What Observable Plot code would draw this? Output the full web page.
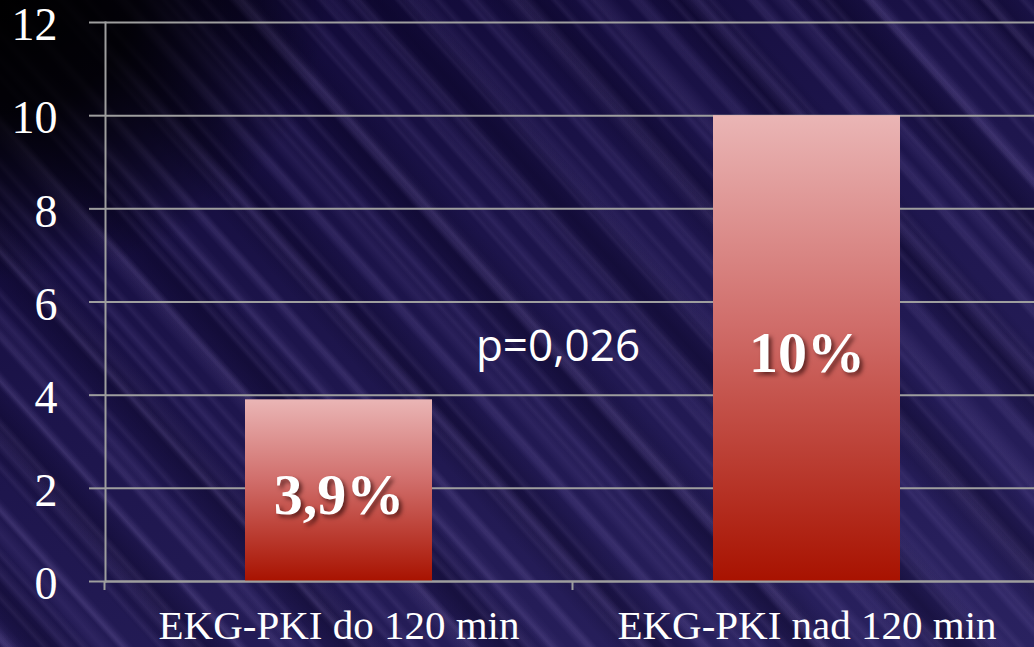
<!DOCTYPE html>
<html><head><meta charset="utf-8">
<script src="https://cdn.jsdelivr.net/npm/d3@7"></script>
<script src="https://cdn.jsdelivr.net/npm/@observablehq/plot@0.6"></script>
<style>
body{margin:0;background:#1b1446;}
#wrap{width:1034px;height:647px;position:relative;overflow:hidden;
background:
 radial-gradient(ellipse 330px 280px at 0 0, #000 0%, rgba(0,0,0,0.85) 40%, rgba(0,0,0,0) 100%),
 repeating-linear-gradient(48deg, rgba(160,140,220,0) 0px, rgba(160,140,220,0.13) 6px, rgba(160,140,220,0) 14px, rgba(160,140,220,0) 43px),
 repeating-linear-gradient(48deg, rgba(180,160,230,0) 0px, rgba(180,160,230,0.09) 4px, rgba(180,160,230,0) 10px, rgba(180,160,230,0) 29px),
 repeating-linear-gradient(48deg, rgba(150,130,210,0) 0px, rgba(150,130,210,0.10) 9px, rgba(150,130,210,0) 20px, rgba(150,130,210,0) 67px),
 repeating-linear-gradient(48deg, rgba(8,3,35,0) 0px, rgba(8,3,35,0.45) 35px, rgba(8,3,35,0) 70px, rgba(8,3,35,0) 113px),
 linear-gradient(160deg, #0e0732 0%, #1c144a 40%, #2a2260 100%);}
#wrap svg{position:absolute;left:0;top:0;}
</style></head><body><div id="wrap"></div>
<script>
const categories = ["EKG-PKI do 120 min", "EKG-PKI nad 120 min"];
const values = [3.9, 10];
const valueLabels = ["3,9%", "10%"];
const yTicks = [0, 2, 4, 6, 8, 10, 12];
const pValueLabel = "p=0,026";
const pValueY = [5.2];

const data = categories.map((c, i) => ({category: c, value: values[i], label: valueLabels[i]}));
const serif = '"Liberation Serif", "Times New Roman", serif';
const sans = '"Open Sans", sans-serif';
const gridColor = "#9e9e9e";

const gradientDefs = () => {
  const defs = d3.create("svg:defs");
  const g = defs.append("linearGradient").attr("id", "barGrad").attr("x1", 0).attr("y1", 0).attr("x2", 0).attr("y2", 1);
  g.append("stop").attr("offset", "0%").attr("stop-color", "#eab5b5");
  g.append("stop").attr("offset", "45%").attr("stop-color", "#d06d6a");
  g.append("stop").attr("offset", "100%").attr("stop-color", "#a81200");
  return defs.node();
};

const categoryTicks = (index, scales, values, dimensions) => {
  const x = scales.x;
  const bw = x.bandwidth ? x.bandwidth() : 0;
  const step = x.step ? x.step() : bw;
  const half = (step - bw) / 2;
  const y0 = dimensions.height - dimensions.marginBottom;
  const xs = categories.map(c => x(c) - half);
  xs.push(x(categories[categories.length - 1]) + bw + half);
  const g = d3.create("svg:g").attr("stroke", gridColor).attr("stroke-width", 2);
  xs.forEach(v => g.append("line").attr("x1", v).attr("x2", v).attr("y1", y0).attr("y2", y0 + 9));
  return g.node();
};

const plot = Plot.plot({
  width: 1034, height: 647,
  marginLeft: 105, marginTop: 22, marginBottom: 66, marginRight: 0,
  style: {background: "transparent", color: "white", overflow: "visible"},
  x: {domain: categories, range: [105, 1041], paddingInner: 0.6, paddingOuter: 0.3},
  y: {domain: [0, 12], range: [581, 22]},
  marks: [
    gradientDefs,
    Plot.gridY(yTicks, {stroke: gridColor, strokeOpacity: 1, strokeWidth: 2}),
    Plot.barY(data, {x: "category", y: "value", fill: "url(#barGrad)"}),
    Plot.frame({anchor: "left", stroke: gridColor, strokeWidth: 2}),
    Plot.ruleY([0], {stroke: gridColor, strokeWidth: 2}),
    categoryTicks,
    Plot.axisY(yTicks, {tickSize: 16, stroke: gridColor, strokeWidth: 2, tickFormat: () => "", label: null}),
    Plot.text(yTicks, {y: d => d, frameAnchor: "left", textAnchor: "end", dx: -48, dy: 3, text: d => String(d), fontSize: 46, fontFamily: serif, fill: "white"}),
    Plot.axisX({tickSize: 0, tickPadding: 28, fontSize: 41, fontFamily: serif, fill: "white", label: null}),
    Plot.text(data, {x: "category", y: d => d.value / 2, text: "label", fontSize: 58, fontWeight: "bold", fontFamily: serif, fill: "white", dy: 5}),
    Plot.text(pValueY, {y: d => d, text: () => pValueLabel, fontSize: 44, fontFamily: sans, fill: "white", dx: -12, dy: 8})
  ]
});
d3.select(plot).selectAll("text")
  .filter(function() { return valueLabels.includes(this.textContent); })
  .style("filter", "drop-shadow(3px 3px 2px rgba(30,0,0,0.6))");
document.getElementById("wrap").appendChild(plot);
</script>
</body></html>
